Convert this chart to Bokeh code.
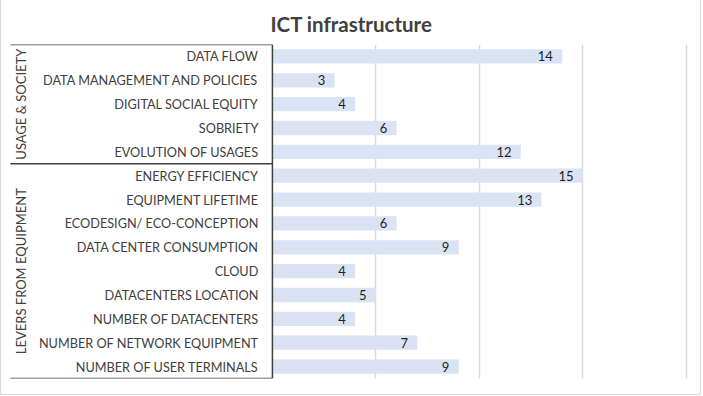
import math
from bokeh.plotting import figure
from bokeh.models import Range1d, FixedTicker, ColumnDataSource
from bokeh.core.properties import value
from bokeh.embed import file_html
from bokeh.resources import INLINE

# ---- data ----
categories = [
    "DATA FLOW", "DATA MANAGEMENT AND POLICIES", "DIGITAL SOCIAL EQUITY",
    "SOBRIETY", "EVOLUTION OF USAGES", "ENERGY EFFICIENCY",
    "EQUIPMENT LIFETIME", "ECODESIGN/ ECO-CONCEPTION", "DATA CENTER CONSUMPTION",
    "CLOUD", "DATACENTERS LOCATION", "NUMBER OF DATACENTERS",
    "NUMBER OF NETWORK EQUIPMENT", "NUMBER OF USER TERMINALS",
]
values = [14, 3, 4, 6, 12, 15, 13, 6, 9, 4, 5, 4, 7, 9]
groups = ["USAGE & SOCIETY", "LEVERS FROM EQUIPMENT"]
group_sizes = [5, 9]
grid_ticks = [5, 10, 15, 20]
title = "ICT infrastructure"

n = len(categories)
rows = [i + 0.5 for i in range(n)]

FONT = "Lato"
LABEL_COLOR = "#404040"

p = figure(width=701, height=395, output_backend="svg", toolbar_location=None,
           x_range=Range1d(-13.04, 20.68), y_range=Range1d(n, 0),
           min_border_left=1, min_border_right=2, min_border_top=44, min_border_bottom=17,
           title=title,
           styles={"border": "1px solid #d9d9d9", "border-top": "none"})
p.title.align = "center"
p.title.text_font = "Lato"
p.title.text_font_size = "20.5px"
p.title.text_font_style = "bold"
p.title.text_color = "#404040"
p.title.standoff = 18
p.outline_line_color = None
p.xaxis.visible = False
p.yaxis.visible = False
p.ygrid.visible = False
p.xgrid.ticker = FixedTicker(ticks=grid_ticks)
p.xgrid.grid_line_color = "#d9d9d9"
p.xgrid.grid_line_width = 1.5

src = ColumnDataSource(dict(y=rows, v=values, cat=categories,
                            lx=[v - 0.45 for v in values],
                            lab=[str(v) for v in values]))

p.hbar(y="y", left=0, right="v", height=0.6, source=src,
       fill_color="#dae3f3", line_color=None)

p.text(x="lx", y="y", text="lab", source=src, text_align="right",
       text_baseline="middle", text_font=value(FONT), text_font_size="13px",
       text_color="#1f1f1f")

p.text(x=-0.68, y="y", text="cat", source=src, text_align="right",
       text_baseline="middle", text_font=value(FONT), text_font_size="12.7px",
       text_color=LABEL_COLOR)

# group labels and box lines
bounds = [0]
for s in group_sizes:
    bounds.append(bounds[-1] + s)
gy = [(bounds[i] + bounds[i + 1]) / 2 for i in range(len(groups))]
p.text(x=[-12.17] * len(groups), y=gy, text=groups, angle=math.pi / 2,
       text_align="center", text_baseline="middle", text_font=value(FONT),
       text_font_size="13px", text_color=LABEL_COLOR)

p.segment(x0=[-12.66] * len(bounds), x1=[0] * len(bounds), y0=bounds, y1=bounds,
          line_color="#404040", line_width=1.5)
p.segment(x0=[0], x1=[0], y0=[0], y1=[n], line_color="#404040", line_width=1.5)

open("out.html", "w").write(file_html(p, INLINE))
